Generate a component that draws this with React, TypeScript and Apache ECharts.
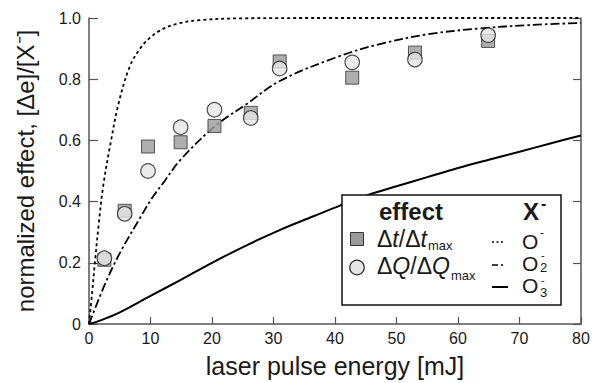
import React, { useEffect, useRef } from "react";
import * as echarts from "echarts";

const energyPts = [2.5, 5.8, 9.6, 14.9, 20.4, 26.3, 31, 42.8, 53, 64.9];
const deltaT = [0.21, 0.37, 0.58, 0.594, 0.647, 0.69, 0.858, 0.805, 0.887, 0.925];
const deltaQ = [0.215, 0.36, 0.5, 0.643, 0.7, 0.673, 0.835, 0.855, 0.864, 0.944];

// Model curves
const curveO1: [number, number][] = [
  [0, 0], [0.5, 0.1], [1, 0.21], [1.6, 0.33], [2.3, 0.45], [3.5, 0.59], [4.8, 0.72],
  [6.6, 0.84], [8.3, 0.9], [10, 0.937], [12, 0.964], [14.5, 0.982], [18, 0.993],
  [25, 0.999], [40, 1.0], [80, 1.0],
];
const curveO2: [number, number][] = [
  [0, 0], [2.7, 0.135], [5.1, 0.235], [8.4, 0.35], [10.2, 0.41], [12.4, 0.47],
  [14.8, 0.535], [20.4, 0.645], [25.7, 0.72], [31.1, 0.795], [40, 0.87], [47.3, 0.915],
  [55.5, 0.948], [63.6, 0.966], [71.7, 0.977], [80, 0.984],
];
const curveO3: [number, number][] = [
  [0, 0], [1.9, 0.012], [5, 0.038], [10, 0.092], [15, 0.145], [20, 0.2], [25.7, 0.258],
  [31, 0.307], [36.5, 0.352], [40.8, 0.387], [45.6, 0.423], [50, 0.45], [55, 0.48],
  [60, 0.51], [65, 0.537], [70, 0.563], [75, 0.59], [80, 0.616],
];

const xTickInterval = 10;
const yTickInterval = 0.2;

const FONT = "'Liberation Sans', Arial, Helvetica, sans-serif";
const AXIS_COLOR = "#555";
const TEXT_COLOR = "#1a1a1a";

export default function App() {
  const ref = useRef<HTMLDivElement>(null);
  useEffect(() => {
    if (!ref.current) return;
    const chart = echarts.init(ref.current, null, { renderer: "svg" });
    const tPts = energyPts.map((x, i) => [x, deltaT[i]]);
    const qPts = energyPts.map((x, i) => [x, deltaQ[i]]);

    const txt = (text: string, x: number, y: number, size: number, extra: any = {}) => ({
      type: "text",
      z: 101,
      style: {
        text,
        x,
        y,
        fontSize: size,
        fontFamily: FONT,
        fill: TEXT_COLOR,
        align: "left",
        verticalAlign: "middle",
        ...extra,
      },
    });

    const lineSeries = (name: string, data: [number, number][], lineStyle: any) => ({
      name,
      type: "line",
      data,
      smooth: 0.35,
      showSymbol: false,
      lineStyle: { color: "#000", ...lineStyle },
      z: 2,
    });

    const richLegend = (text: string, x: number, y: number) => ({
      type: "text",
      z: 101,
      style: {
        text,
        x,
        y,
        align: "left",
        verticalAlign: "middle",
        fill: TEXT_COLOR,
        rich: {
          n: { fontSize: 23, fontFamily: FONT, fill: TEXT_COLOR },
          i: { fontSize: 23, fontFamily: FONT, fontStyle: "italic", fill: TEXT_COLOR },
        },
      },
    });

    chart.setOption({
      animation: false,
      backgroundColor: "#fff",
      textStyle: { fontFamily: FONT },
      grid: { left: 89, right: 16, top: 18, bottom: 59, containLabel: false },
      xAxis: {
        type: "value",
        min: 0,
        max: 80,
        interval: xTickInterval,
        name: "laser pulse energy [mJ]",
        nameLocation: "middle",
        nameGap: 29,
        nameTextStyle: { fontSize: 25, color: TEXT_COLOR, fontFamily: FONT },
        axisLine: { show: true, onZero: false, lineStyle: { color: AXIS_COLOR, width: 1.5 } },
        axisTick: { show: true, inside: true, length: 7, lineStyle: { color: AXIS_COLOR, width: 1.2 } },
        axisLabel: { fontSize: 16, color: TEXT_COLOR, margin: 6, fontFamily: FONT },
        splitLine: { show: false },
      },
      yAxis: [
        {
          type: "value",
          min: 0,
          max: 1,
          interval: yTickInterval,
          name: "normalized effect, [Δe]/[X⁻]",
          nameLocation: "middle",
          nameGap: 52,
          nameRotate: 90,
          nameTextStyle: { fontSize: 24, color: TEXT_COLOR, fontFamily: FONT },
          axisLine: { show: true, onZero: false, lineStyle: { color: AXIS_COLOR, width: 1.5 } },
          axisTick: { show: true, inside: true, length: 9, lineStyle: { color: AXIS_COLOR, width: 1.2 } },
          axisLabel: {
            fontSize: 16,
            color: TEXT_COLOR,
            margin: 8,
            fontFamily: FONT,
            formatter: (v: number) => (v === 0 ? "0" : v.toFixed(1)),
          },
          splitLine: { show: false },
        },
        {
          type: "value",
          position: "right",
          min: 0,
          max: 1,
          interval: yTickInterval,
          axisLine: { show: true, onZero: false, lineStyle: { color: AXIS_COLOR, width: 1.5 } },
          axisTick: { show: true, inside: true, length: 8, lineStyle: { color: AXIS_COLOR, width: 1.2 } },
          axisLabel: { show: false },
          splitLine: { show: false },
        },
      ],
      series: [
        lineSeries("O-", curveO1, { width: 1.8, type: [3, 3] }),
        lineSeries("O2-", curveO2, { width: 1.8, type: [9, 3, 2.5, 3] }),
        lineSeries("O3-", curveO3, { width: 2 }),
        {
          name: "Δt/Δtmax",
          type: "scatter",
          data: tPts,
          symbol: "rect",
          symbolSize: 13,
          itemStyle: { color: "#9a9a9a", borderColor: "#333", borderWidth: 1 },
          z: 3,
        },
        {
          name: "ΔQ/ΔQmax",
          type: "scatter",
          data: qPts,
          symbol: "circle",
          symbolSize: 14.5,
          itemStyle: { color: "#e6e6e6", borderColor: "#222", borderWidth: 1.2 },
          z: 4,
        },
      ],
      graphic: [
        {
          type: "rect",
          z: 100,
          shape: { x: 342, y: 195, width: 219, height: 110 },
          style: { fill: "#fff", stroke: "#111", lineWidth: 1.5 },
        },
        txt("effect", 379, 211, 24, { fontWeight: "bold" }),
        txt("X", 523, 211, 24, { fontWeight: "bold" }),
        txt("-", 541, 203, 16, { fontWeight: "bold" }),
        // square sample
        {
          type: "rect",
          z: 101,
          shape: { x: 350.5, y: 232.5, width: 13, height: 13 },
          style: { fill: "#9a9a9a", stroke: "#333", lineWidth: 1 },
        },
        {
          type: "circle",
          z: 101,
          shape: { cx: 357, cy: 267.5, r: 7.2 },
          style: { fill: "#e6e6e6", stroke: "#222", lineWidth: 1.2 },
        },
        richLegend("{n|Δ}{i|t}{n|/Δ}{i|t}", 377, 239),
        txt("max", 428, 245.5, 13),
        richLegend("{n|Δ}{i|Q}{n|/Δ}{i|Q}", 377, 265.5),
        txt("max", 451, 275.5, 13),
        // line samples
        {
          type: "line",
          z: 101,
          shape: { x1: 492, y1: 242, x2: 504, y2: 242 },
          style: { stroke: "#000", lineWidth: 1.5, lineDash: [2, 2.5] },
        },
        {
          type: "line",
          z: 101,
          shape: { x1: 492, y1: 265, x2: 506, y2: 265 },
          style: { stroke: "#000", lineWidth: 1.5, lineDash: [6, 3, 2, 3] },
        },
        {
          type: "line",
          z: 101,
          shape: { x1: 492, y1: 287, x2: 508, y2: 287 },
          style: { stroke: "#000", lineWidth: 2 },
        },
        txt("O", 522, 241, 21),
        txt("-", 540, 233, 12),
        txt("O", 522, 263, 21),
        txt("2", 540, 267.5, 13),
        txt("-", 541, 255, 11),
        txt("O", 522, 285, 21),
        txt("3", 540, 292, 13),
        txt("-", 541, 280, 11),
      ],
    });
    return () => chart.dispose();
  }, []);
  return (
    <div
      ref={ref}
      style={{ position: "fixed", left: 0, top: 0, width: 597, height: 383, background: "#fff" }}
    />
  );
}
